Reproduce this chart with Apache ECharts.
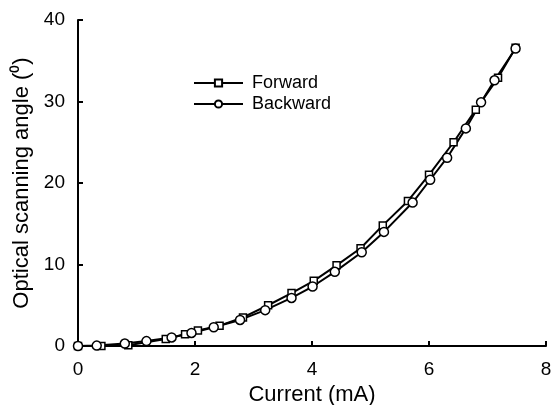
<!DOCTYPE html>
<html><head><meta charset="utf-8">
<script src="https://cdn.jsdelivr.net/npm/echarts@6/dist/echarts.min.js"></script>
<style>html,body{margin:0;padding:0;background:#fff}#c{width:554px;height:405px}</style>
</head><body><div id="c"></div>
<script>
const forwardX = [0, 0.40, 0.86, 1.50, 1.83, 2.05, 2.42, 2.82, 3.25, 3.65, 4.03, 4.42, 4.83, 5.21, 5.64, 6.00, 6.42, 6.80, 7.18, 7.48];
const forwardY = [0, 0.0, 0.1, 0.85, 1.45, 1.9, 2.5, 3.5, 5.0, 6.5, 8.0, 9.9, 12.0, 14.8, 17.8, 21.0, 25.0, 29.0, 32.9, 36.6];
const backwardX = [0, 0.32, 0.80, 1.17, 1.60, 1.94, 2.32, 2.77, 3.20, 3.65, 4.01, 4.39, 4.85, 5.23, 5.72, 6.02, 6.31, 6.63, 6.89, 7.12, 7.48];
const backwardY = [0, 0.05, 0.3, 0.6, 1.05, 1.6, 2.3, 3.2, 4.4, 5.9, 7.3, 9.1, 11.5, 14.0, 17.6, 20.4, 23.1, 26.7, 29.9, 32.6, 36.5];
const xTicks = [0, 2, 4, 6, 8];
const yTicks = [0, 10, 20, 30, 40];

const font = 'Liberation Sans, Arial, sans-serif';
const pair = (xs, ys) => xs.map((x, i) => [x, ys[i]]);
const chart = echarts.init(document.getElementById('c'), null, {renderer: 'canvas'});
chart.setOption({
  animation: false,
  backgroundColor: '#fff',
  grid: {left: 78, right: 8, top: 20, bottom: 59, containLabel: false, outerBoundsMode: 'none'},
  legend: {
    orient: 'vertical', left: 188, top: 69, itemWidth: 49, itemHeight: 9, itemGap: 3,
    textStyle: {fontFamily: font, fontSize: 18, color: '#000', padding: [0, 0, 0, 4]},
    data: ['Forward', 'Backward']
  },
  xAxis: {
    type: 'value', min: 0, max: 8, interval: 2,
    name: 'Current (mA)', nameLocation: 'middle', nameGap: 29,
    nameTextStyle: {fontFamily: font, fontSize: 22, color: '#000'},
    axisLine: {lineStyle: {color: '#000', width: 2}},
    axisTick: {inside: true, length: 5, lineStyle: {color: '#000', width: 2}},
    axisLabel: {fontFamily: font, fontSize: 19, color: '#000', margin: 14,
      formatter: v => xTicks.includes(v) ? String(v) : ''},
    splitLine: {show: false}
  },
  yAxis: {
    type: 'value', min: 0, max: 40, interval: 10,
    name: 'Optical scanning angle (⁰)', nameLocation: 'middle', nameGap: 44, nameRotate: 90,
    nameTextStyle: {fontFamily: font, fontSize: 22, color: '#000'},
    axisLine: {lineStyle: {color: '#000', width: 2}},
    axisTick: {inside: true, length: 5, lineStyle: {color: '#000', width: 2}},
    axisLabel: {fontFamily: font, fontSize: 19, color: '#000', margin: 13,
      formatter: v => yTicks.includes(v) ? String(v) : ''},
    splitLine: {show: false}
  },
  series: [
    {
      name: 'Forward', type: 'line', data: pair(forwardX, forwardY),
      symbol: 'rect', symbolSize: 7, showAllSymbol: true,
      lineStyle: {color: '#000', width: 2},
      itemStyle: {color: '#fff', borderColor: '#000', borderWidth: 1.5}
    },
    {
      name: 'Backward', type: 'line', data: pair(backwardX, backwardY),
      symbol: 'circle', symbolSize: 9, showAllSymbol: true,
      lineStyle: {color: '#000', width: 2},
      itemStyle: {color: '#fff', borderColor: '#000', borderWidth: 1.5}
    }
  ]
});
</script></body></html>
